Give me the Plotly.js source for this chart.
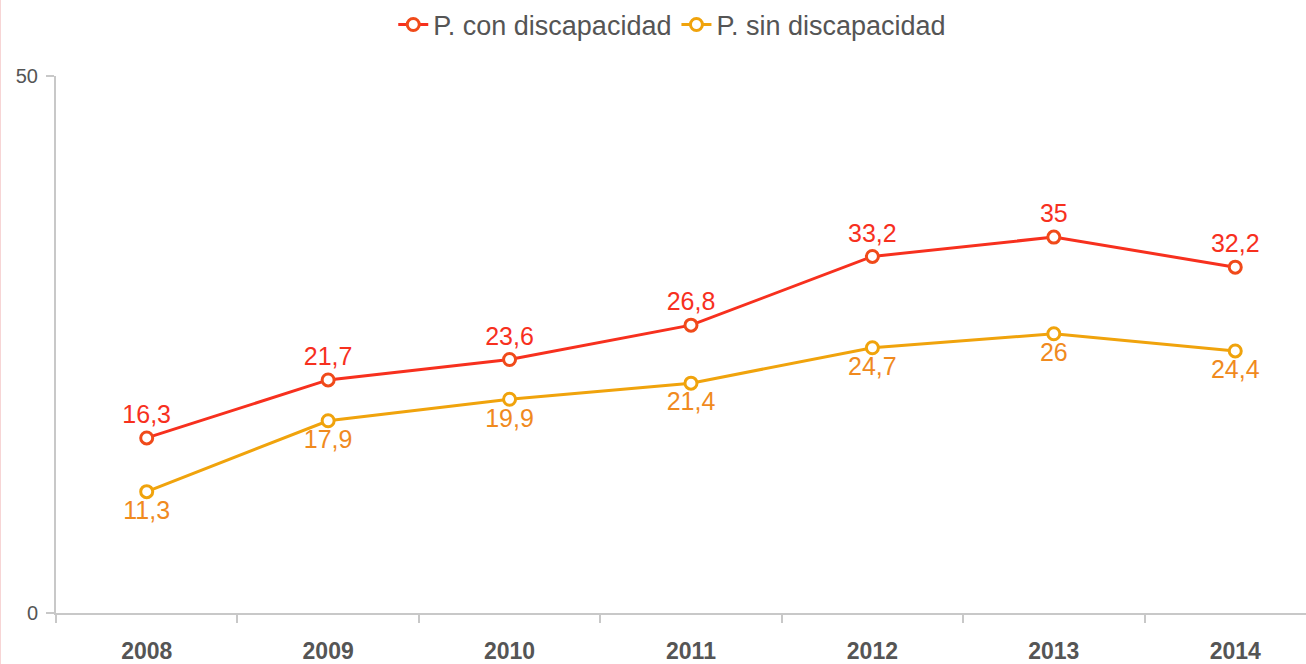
<!DOCTYPE html>
<html>
<head>
<meta charset="utf-8">
<script src="https://cdn.plot.ly/plotly-3.0.1.min.js"></script>
<style>html,body{margin:0;padding:0;overflow:hidden;background:#fff}</style>
</head>
<body>
<div id="chart" style="width:1306px;height:664px"></div>
<script>
const years = ["2008","2009","2010","2011","2012","2013","2014"];
const conDiscapacidad = [16.3, 21.7, 23.6, 26.8, 33.2, 35, 32.2];
const sinDiscapacidad = [11.3, 17.9, 19.9, 21.4, 24.7, 26, 24.4];
const seriesNames = ["P. con discapacidad", "P. sin discapacidad"];
const yTicks = [0, 50];

const font = "Liberation Sans, Arial, sans-serif";

const traces = [
  {
    x: years, y: conDiscapacidad, name: seriesNames[0],
    type: "scatter", mode: "lines+markers+text",
    line: {color: "#f7301e", width: 3},
    marker: {symbol: "circle", size: 12, color: "#ffffff", line: {color: "#f04a1a", width: 3}},
    text: conDiscapacidad.map(v => v.toLocaleString("es-ES")),
    textposition: "top center",
    textfont: {family: font, size: 25, color: "#f7301e"},
    cliponaxis: false
  },
  {
    x: years, y: sinDiscapacidad, name: seriesNames[1],
    type: "scatter", mode: "lines+markers+text",
    line: {color: "#f0a30c", width: 3},
    marker: {symbol: "circle", size: 12, color: "#ffffff", line: {color: "#f0a30c", width: 3}},
    text: sinDiscapacidad.map(v => v.toLocaleString("es-ES")),
    textposition: "bottom center",
    textfont: {family: font, size: 25, color: "#f08a1e"},
    cliponaxis: false
  }
];

const layout = {
  width: 1306, height: 664,
  margin: {l: 56, r: 0, t: 76, b: 51, autoexpand: false},
  paper_bgcolor: "#ffffff", plot_bgcolor: "#ffffff",
  separators: ", ",
  font: {family: font, color: "#555555"},
  showlegend: true,
  legend: {
    orientation: "h", x: 0.493, xanchor: "center", y: 1.095, yanchor: "middle",
    font: {family: font, size: 27, color: "#555555"},
    itemwidth: 30, tracegroupgap: 0
  },
  xaxis: {
    type: "category",
    range: [-0.5, 6.39],
    tickson: "boundaries",
    ticks: "outside", ticklen: 8, tickcolor: "#c8c8c8", tickwidth: 2,
    showline: true, linecolor: "#c8c8c8", linewidth: 2,
    showgrid: false, zeroline: false,
    tickfont: {family: font, size: 23, color: "#555555", weight: "bold"},
    ticklabelstandoff: 16,
    fixedrange: true
  },
  yaxis: {
    range: [0, 50],
    tickvals: yTicks,
    ticktext: yTicks.map(String),
    ticks: "outside", ticklen: 8, tickcolor: "#c8c8c8", tickwidth: 2,
    showline: true, linecolor: "#c8c8c8", linewidth: 2,
    showgrid: true, gridcolor: "#c8c8c8", gridwidth: 2,
    zeroline: false,
    tickfont: {family: font, size: 20, color: "#555555"},
    ticklabelstandoff: 4,
    fixedrange: true
  },
  shapes: [
    {type: "line", xref: "paper", yref: "paper", x0: -0.0445, x1: -0.0445, y0: -0.1, y1: 1.15,
     line: {color: "#f6d0d0", width: 1}}
  ]
};

Plotly.newPlot("chart", traces, layout, {displayModeBar: false, staticPlot: true});
</script>
</body>
</html>
